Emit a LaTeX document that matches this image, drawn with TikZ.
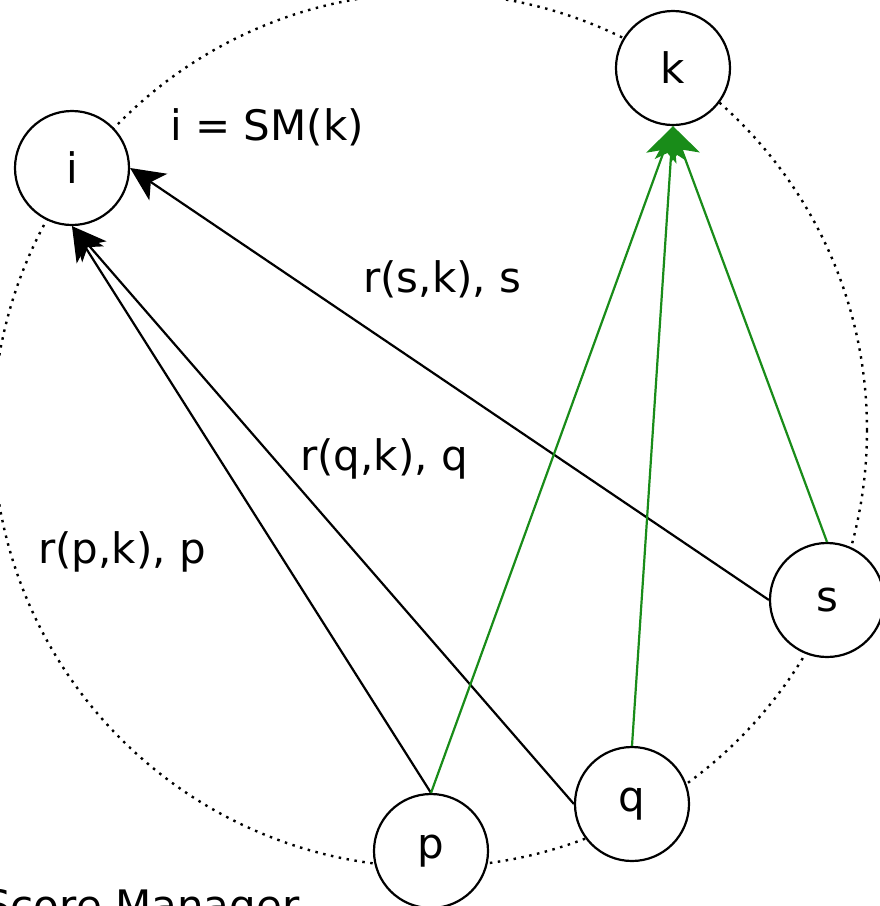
\documentclass[tikz,border=0pt]{standalone}
\usepackage{fontspec}
\setmainfont{DejaVu Sans}
\usetikzlibrary{arrows.meta}
\definecolor{arrowgreen}{RGB}{25,140,25}
\begin{document}
\begin{tikzpicture}[x=1pt,y=-1pt,
  peer/.style={circle,draw,fill=white,line width=2.2pt,minimum size=114pt,inner sep=0pt,font=\fontsize{42}{50}\selectfont},
  lbl/.style={anchor=base west,inner sep=0pt,font=\fontsize{42}{50}\selectfont},
  ring/.style={line width=2.4pt,dash pattern=on 2.5pt off 5.5pt},
  blk/.style={line width=2.2pt,-{Stealth[length=34pt,width=32pt,inset=9pt]}},
  grn/.style={line width=2.2pt,draw=arrowgreen,-{Stealth[length=34pt,width=32pt,inset=9pt,fill=arrowgreen]}}]
\useasboundingbox (0,0) rectangle (880,906);
\clip (0,0) rectangle (880,906);
\fill[white] (0,0) rectangle (880,906);
\draw[ring] (430,430) circle[radius=437];
\node[peer] (i) at (72,168) {i};
\node[peer] (k) at (673,68) {k};
\node[peer] (s) at (827,600) {s};
\node[peer] (q) at (632,804) {q};
\node[peer] (p) at (431,851) {p};
\draw[blk] (s.west) -- (i.east);
\draw[blk] (q.west) -- (i.south);
\draw[blk] (p.north) -- (i.south);
\draw[grn] (p.north) -- (k.south);
\draw[grn] (q.north) -- (k.south);
\draw[grn] (s.north) -- (k.south);
\node[lbl] (l1) at (170,140) {i = SM(k)};
\node[lbl] (l2) at (363,292) {r(s,k), s};
\node[lbl] (l3) at (300,470) {r(q,k), q};
\node[lbl] (l4) at (38,563) {r(p,k), p};
\node[lbl] (l5) at (-16,920) {Score Manager};
\end{tikzpicture}
\end{document}
